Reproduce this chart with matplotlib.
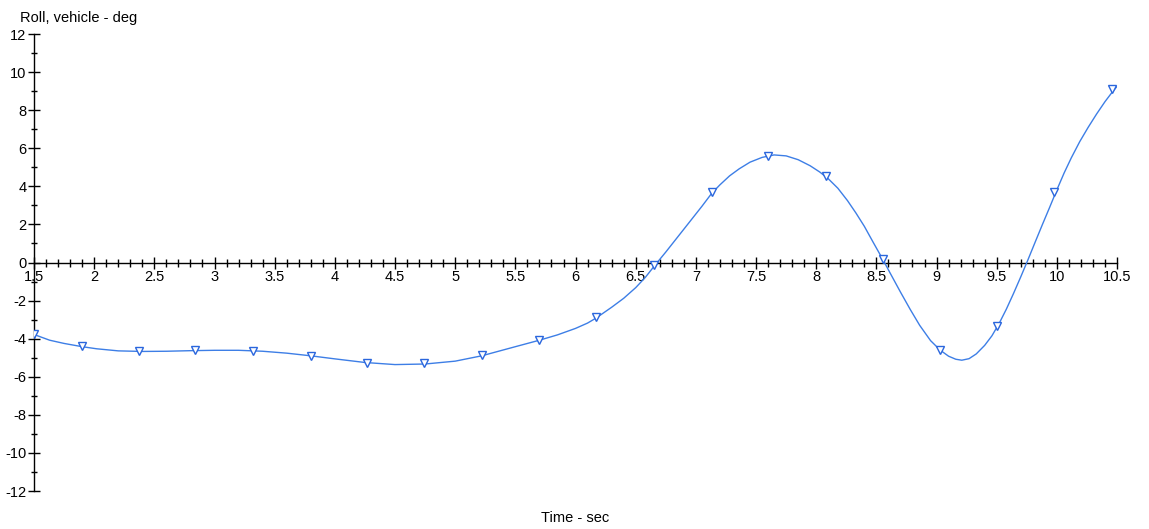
import numpy as np
import matplotlib
matplotlib.use("Agg")
import matplotlib.pyplot as plt
from matplotlib.ticker import MultipleLocator, FuncFormatter

plt.rcParams['font.family'] = ['Liberation Sans', 'DejaVu Sans']

# curve (time s, roll deg)
t_line = [1.50, 1.63, 1.75, 1.90, 2.02, 2.20, 2.40, 2.60, 2.80, 3.00, 3.20, 3.40,
          3.60, 3.80, 4.00, 4.25, 4.50, 4.75, 5.00, 5.22, 5.50, 5.70, 5.85, 6.00,
          6.10, 6.17, 6.30, 6.40, 6.50, 6.58, 6.65, 6.75, 6.85, 6.95, 7.05, 7.13,
          7.20, 7.28, 7.36, 7.45, 7.55, 7.65, 7.75, 7.85, 7.95, 8.03, 8.10, 8.18,
          8.26, 8.33, 8.40, 8.47, 8.55, 8.62, 8.70, 8.78, 8.86, 8.95, 9.03, 9.10,
          9.16, 9.21, 9.27, 9.33, 9.40, 9.46, 9.52, 9.58, 9.64, 9.70, 9.76, 9.82,
          9.88, 9.94, 10.00, 10.06, 10.12, 10.19, 10.26, 10.33, 10.40, 10.46, 10.50]
roll_line = [-3.78, -4.08, -4.25, -4.42, -4.53, -4.64, -4.67, -4.66, -4.63, -4.61, -4.61, -4.66,
             -4.76, -4.90, -5.06, -5.25, -5.36, -5.33, -5.18, -4.90, -4.42, -4.08, -3.80, -3.46,
             -3.18, -2.92, -2.35, -1.88, -1.32, -0.78, -0.22, 0.55, 1.35, 2.15, 2.95, 3.62,
             4.08, 4.55, 4.92, 5.27, 5.52, 5.65, 5.60, 5.40, 5.08, 4.75, 4.40, 3.90,
             3.25, 2.60, 1.90, 1.10, 0.20, -0.62, -1.55, -2.45, -3.30, -4.10, -4.60, -4.92,
             -5.08, -5.13, -5.05, -4.80, -4.35, -3.85, -3.20, -2.45, -1.62, -0.75, 0.15, 1.08,
             2.00, 2.90, 3.82, 4.70, 5.50, 6.35, 7.10, 7.80, 8.45, 8.95, 9.25]

# marker positions
t_mark = [1.5, 1.9, 2.37, 2.84, 3.32, 3.8, 4.27, 4.74, 5.22, 5.7, 6.17, 6.65,
          7.13, 7.6, 8.08, 8.555, 9.03, 9.5, 9.98, 10.46]
roll_mark = [-3.75, -4.4, -4.66, -4.6, -4.66, -4.9, -5.27, -5.3, -4.85, -4.06, -2.84, -0.15,
             3.7, 5.62, 4.53, 0.2, -4.6, -3.35, 3.7, 9.12]

fig = plt.figure(figsize=(11.49, 5.29), dpi=100)
ax = fig.add_axes([0.0296, 0.0718, 0.9426, 0.8639])

ax.plot(t_line, roll_line, color="#3d7ee6", lw=1.0, zorder=3)
ax.plot(t_mark, roll_mark, ls="none", marker="v", ms=6, mfc="white",
        mec="#2a66dd", mew=1.0, zorder=4)

ax.set_xlim(1.5, 10.5)
ax.set_ylim(-12, 12)

ax.spines["top"].set_visible(False)
ax.spines["right"].set_visible(False)
ax.spines["bottom"].set_position(("data", 0))
ax.spines["left"].set_position(("data", 1.5))
for s in ("bottom", "left"):
    ax.spines[s].set_color("black")
    ax.spines[s].set_linewidth(1.0)

ax.xaxis.set_major_locator(MultipleLocator(0.5))
ax.xaxis.set_minor_locator(MultipleLocator(0.1))
ax.yaxis.set_major_locator(MultipleLocator(2))
ax.yaxis.set_minor_locator(MultipleLocator(1))
ax.xaxis.set_major_formatter(FuncFormatter(lambda v, p: f"{v:g}"))
ax.yaxis.set_major_formatter(FuncFormatter(lambda v, p: f"{v:g}"))

ax.tick_params(axis="x", which="major", direction="inout", length=8, width=1,
               labelsize=10.5, pad=1.5, colors="black")
ax.tick_params(axis="x", which="minor", direction="inout", length=6, width=1)
ax.tick_params(axis="y", which="major", direction="inout", length=9, width=1,
               labelsize=10.5, pad=1, colors="black")
ax.tick_params(axis="y", which="minor", direction="inout", length=5, width=1)

fig.text(20 / 1149, 1 - 18 / 529, "Roll, vehicle - deg", fontsize=10.5,
         ha="left", va="center")
fig.text(575 / 1149, 1 - 518 / 529, "Time - sec", fontsize=10.5,
         ha="center", va="center")

fig.savefig("out.png", dpi=100)
